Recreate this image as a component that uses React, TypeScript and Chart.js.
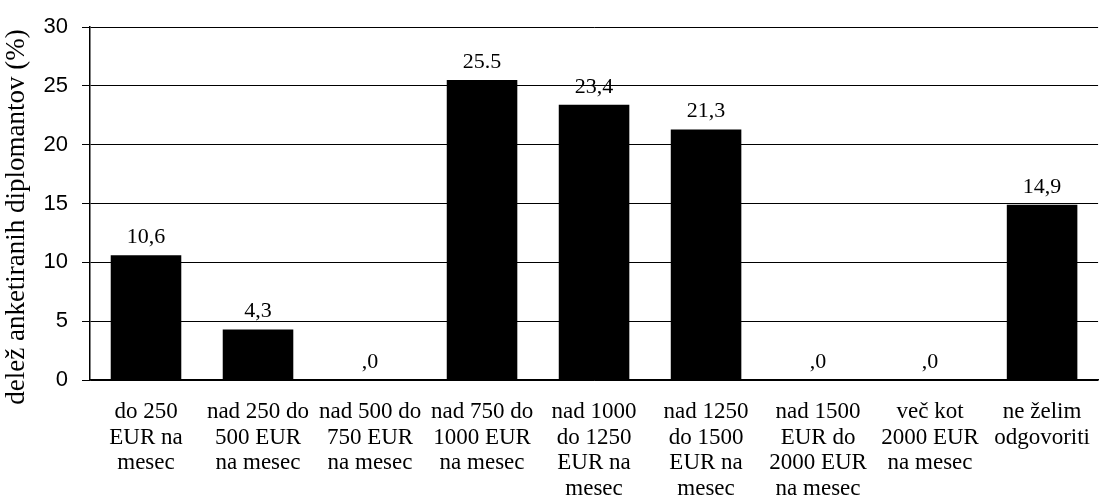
import React, { useEffect, useRef } from "react";
import { Chart, registerables } from "chart.js";

Chart.register(...registerables);

const categories: string[][] = [
  ["do 250", "EUR na", "mesec"],
  ["nad 250 do", "500 EUR", "na mesec"],
  ["nad 500 do", "750 EUR", "na mesec"],
  ["nad 750 do", "1000 EUR", "na mesec"],
  ["nad 1000", "do 1250", "EUR na", "mesec"],
  ["nad 1250", "do 1500", "EUR na", "mesec"],
  ["nad 1500", "EUR do", "2000 EUR", "na mesec"],
  ["več kot", "2000 EUR", "na mesec"],
  ["ne želim", "odgovoriti"],
];

const values: number[] = [10.6, 4.3, 0, 25.5, 23.4, 21.3, 0, 0, 14.9];
const valueLabels: string[] = ["10,6", "4,3", ",0", "25.5", "23,4", "21,3", ",0", ",0", "14,9"];
const yTicks: number[] = [0, 5, 10, 15, 20, 25, 30];
const yTitle = "delež anketiranih diplomantov (%)";

const valueLabelPlugin = {
  id: "valueLabels",
  afterDatasetsDraw(chart: any) {
    const ctx = chart.ctx;
    const meta = chart.getDatasetMeta(0);
    ctx.save();
    ctx.fillStyle = "#000";
    ctx.font = '22px "Liberation Serif", "DejaVu Serif", serif';
    ctx.textAlign = "center";
    ctx.textBaseline = "bottom";
    meta.data.forEach((bar: any, i: number) => {
      ctx.fillText(valueLabels[i], bar.x, bar.y - 7);
    });
    ctx.restore();
    // y-axis title
    ctx.save();
    ctx.fillStyle = "#000";
    ctx.font = '27px "Liberation Serif", "DejaVu Serif", serif';
    ctx.textAlign = "center";
    ctx.textBaseline = "middle";
    ctx.translate(17, chart.chartArea.bottom - 163);
    ctx.rotate(-Math.PI / 2);
    ctx.fillText(yTitle, 0, 0);
    ctx.restore();
  },
};

export default function App() {
  const ref = useRef<HTMLCanvasElement | null>(null);
  useEffect(() => {
    document.body.style.margin = "0";
    if (!ref.current) return;
    const chart = new Chart(ref.current, {
      type: "bar",
      data: {
        labels: categories as any,
        datasets: [
          {
            data: values,
            backgroundColor: "#000",
            borderWidth: 0,
            barPercentage: 0.63,
            categoryPercentage: 1,
          },
        ],
      },
      options: {
        animation: false,
        responsive: false,
        maintainAspectRatio: false,
        layout: { padding: { top: 23, right: 0, left: 0, bottom: 0 } },
        plugins: {
          legend: { display: false },
          tooltip: { enabled: false },
        },
        scales: {
          x: {
            grid: { display: false },
            border: { display: true, color: "#000", width: 1.5 },
            ticks: {
              color: "#000",
              padding: 11,
              maxRotation: 0,
              autoSkip: false,
              font: { family: '"Liberation Serif", "DejaVu Serif", serif', size: 23, lineHeight: 1.12 },
            },
            afterFit: (scale: any) => {
              scale.height = 119;
            },
          },
          y: {
            min: 0,
            max: 30,
            afterBuildTicks: (scale: any) => {
              scale.ticks = yTicks.map((v) => ({ value: v }));
            },
            grid: { color: "#000", lineWidth: 1, tickLength: 8, drawTicks: true },
            border: { display: true, color: "#000", width: 1.5 },
            ticks: {
              color: "#000",
              padding: 14,
              font: { family: '"Liberation Sans", Arial, sans-serif', size: 22 },
            },
            afterFit: (scale: any) => {
              scale.width = 90;
            },
          },
        },
      },
      plugins: [valueLabelPlugin],
    });
    return () => chart.destroy();
  }, []);
  return (
    <div style={{ position: "absolute", left: 0, top: 0, width: 1101, height: 499 }}>
      <canvas ref={ref} width={1101} height={499} style={{ display: "block" }} />
    </div>
  );
}
